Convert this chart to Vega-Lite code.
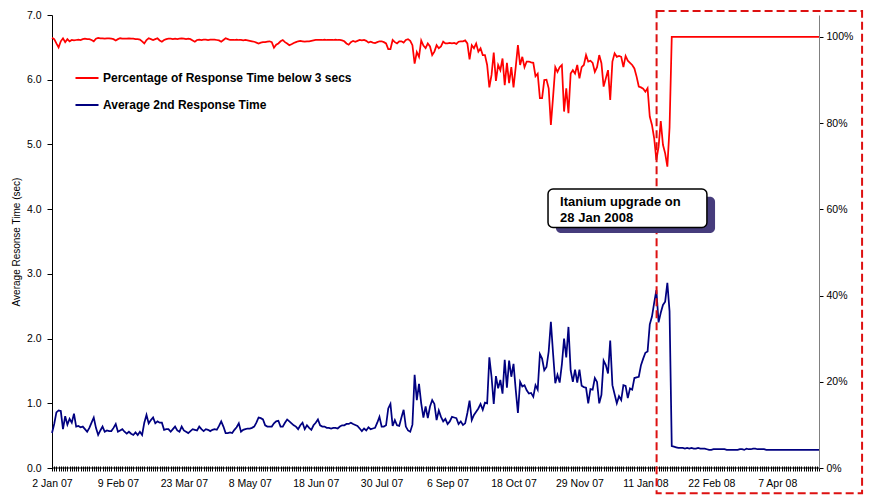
{
  "$schema": "https://vega.github.io/schema/vega-lite/v6.json",
  "width": 767,
  "height": 453,
  "autosize": {"type": "none"},
  "padding": {"left": 52, "top": 15, "right": 63, "bottom": 29},
  "background": "white",
  "config": {
    "view": {"stroke": null},
    "font": "Liberation Sans",
    "axis": {"labelFont": "Liberation Sans", "labelFontSize": 10.5, "labelColor": "#000", "tickColor": "#000", "domainColor": "#000", "grid": false}
  },
  "datasets": {
    "resp": [
      {"i":0,"avg":0.54,"pct":0.998},{"i":1,"avg":0.68,"pct":0.995},{"i":2,"avg":0.86,"pct":0.985},{"i":3,"avg":0.89,"pct":0.976},{"i":4,"avg":0.88,"pct":0.99},
      {"i":5,"avg":0.60,"pct":0.997},{"i":6,"avg":0.80,"pct":0.988},{"i":7,"avg":0.67,"pct":0.995},{"i":8,"avg":0.76,"pct":0.99},{"i":9,"avg":0.70,"pct":0.993},
      {"i":10,"avg":0.84,"pct":0.992},{"i":11,"avg":0.64,"pct":0.993},{"i":12,"avg":0.65,"pct":0.994},{"i":13,"avg":0.63,"pct":0.993},{"i":14,"avg":0.64,"pct":0.995},
      {"i":15,"avg":0.60,"pct":0.996},{"i":16,"avg":0.56,"pct":0.995},{"i":17,"avg":0.62,"pct":0.995},{"i":18,"avg":0.70,"pct":0.993},{"i":19,"avg":0.78,"pct":0.99},
      {"i":20,"avg":0.62,"pct":0.996},{"i":21,"avg":0.51,"pct":0.998},{"i":22,"avg":0.58,"pct":0.997},{"i":23,"avg":0.64,"pct":0.997},{"i":24,"avg":0.56,"pct":0.996},
      {"i":25,"avg":0.58,"pct":0.997},{"i":26,"avg":0.57,"pct":0.997},{"i":27,"avg":0.57,"pct":0.996},{"i":28,"avg":0.62,"pct":0.995},{"i":29,"avg":0.68,"pct":0.992},
      {"i":30,"avg":0.56,"pct":0.995},{"i":31,"avg":0.58,"pct":0.997},{"i":32,"avg":0.60,"pct":0.996},{"i":33,"avg":0.56,"pct":0.996},{"i":34,"avg":0.53,"pct":0.996},
      {"i":35,"avg":0.56,"pct":0.997},{"i":36,"avg":0.53,"pct":0.996},{"i":37,"avg":0.51,"pct":0.996},{"i":38,"avg":0.55,"pct":0.995},{"i":39,"avg":0.51,"pct":0.995},
      {"i":40,"avg":0.56,"pct":0.994},{"i":41,"avg":0.51,"pct":0.99},{"i":42,"avg":0.70,"pct":0.985},{"i":43,"avg":0.82,"pct":0.993},{"i":44,"avg":0.69,"pct":0.997},
      {"i":45,"avg":0.74,"pct":0.995},{"i":46,"avg":0.78,"pct":0.993},{"i":47,"avg":0.69,"pct":0.995},{"i":48,"avg":0.72,"pct":0.997},{"i":49,"avg":0.70,"pct":0.992},
      {"i":50,"avg":0.70,"pct":0.989},{"i":51,"avg":0.59,"pct":0.993},{"i":52,"avg":0.60,"pct":0.995},{"i":53,"avg":0.60,"pct":0.996},{"i":54,"avg":0.56,"pct":0.996},
      {"i":55,"avg":0.60,"pct":0.995},{"i":56,"avg":0.64,"pct":0.996},{"i":57,"avg":0.58,"pct":0.995},{"i":58,"avg":0.56,"pct":0.996},{"i":59,"avg":0.64,"pct":0.997},
      {"i":60,"avg":0.58,"pct":0.996},{"i":61,"avg":0.56,"pct":0.995},{"i":62,"avg":0.54,"pct":0.996},{"i":63,"avg":0.57,"pct":0.995},{"i":64,"avg":0.60,"pct":0.992},
      {"i":65,"avg":0.59,"pct":0.989},{"i":66,"avg":0.58,"pct":0.993},{"i":67,"avg":0.64,"pct":0.994},{"i":68,"avg":0.60,"pct":0.993},{"i":69,"avg":0.57,"pct":0.994},
      {"i":70,"avg":0.60,"pct":0.994},{"i":71,"avg":0.59,"pct":0.993},{"i":72,"avg":0.57,"pct":0.994},{"i":73,"avg":0.59,"pct":0.994},{"i":74,"avg":0.60,"pct":0.994},
      {"i":75,"avg":0.59,"pct":0.993},{"i":76,"avg":0.65,"pct":0.992},{"i":77,"avg":0.72,"pct":0.989},{"i":78,"avg":0.64,"pct":0.993},{"i":79,"avg":0.54,"pct":0.997},
      {"i":80,"avg":0.54,"pct":0.995},{"i":81,"avg":0.55,"pct":0.993},{"i":82,"avg":0.54,"pct":0.993},{"i":83,"avg":0.59,"pct":0.993},{"i":84,"avg":0.63,"pct":0.994},
      {"i":85,"avg":0.69,"pct":0.993},{"i":86,"avg":0.56,"pct":0.993},{"i":87,"avg":0.59,"pct":0.992},{"i":88,"avg":0.60,"pct":0.993},{"i":89,"avg":0.61,"pct":0.992},
      {"i":90,"avg":0.61,"pct":0.991},{"i":91,"avg":0.62,"pct":0.99},{"i":92,"avg":0.64,"pct":0.989},{"i":93,"avg":0.70,"pct":0.987},{"i":94,"avg":0.78,"pct":0.985},
      {"i":95,"avg":0.77,"pct":0.987},{"i":96,"avg":0.75,"pct":0.988},{"i":97,"avg":0.66,"pct":0.988},{"i":98,"avg":0.64,"pct":0.989},{"i":99,"avg":0.64,"pct":0.99},
      {"i":100,"avg":0.64,"pct":0.988},{"i":101,"avg":0.69,"pct":0.975},{"i":102,"avg":0.72,"pct":0.982},{"i":103,"avg":0.73,"pct":0.985},{"i":104,"avg":0.64,"pct":0.99},
      {"i":105,"avg":0.64,"pct":0.993},{"i":106,"avg":0.70,"pct":0.988},{"i":107,"avg":0.75,"pct":0.985},{"i":108,"avg":0.72,"pct":0.981},{"i":109,"avg":0.69,"pct":0.983},
      {"i":110,"avg":0.66,"pct":0.986},{"i":111,"avg":0.64,"pct":0.988},{"i":112,"avg":0.60,"pct":0.99},{"i":113,"avg":0.66,"pct":0.991},{"i":114,"avg":0.70,"pct":0.99},
      {"i":115,"avg":0.60,"pct":0.989},{"i":116,"avg":0.66,"pct":0.99},{"i":117,"avg":0.62,"pct":0.99},{"i":118,"avg":0.59,"pct":0.991},{"i":119,"avg":0.66,"pct":0.992},
      {"i":120,"avg":0.70,"pct":0.993},{"i":121,"avg":0.75,"pct":0.993},{"i":122,"avg":0.66,"pct":0.993},{"i":123,"avg":0.64,"pct":0.993},{"i":124,"avg":0.64,"pct":0.994},
      {"i":125,"avg":0.62,"pct":0.993},{"i":126,"avg":0.62,"pct":0.993},{"i":127,"avg":0.61,"pct":0.993},{"i":128,"avg":0.62,"pct":0.993},{"i":129,"avg":0.62,"pct":0.994},
      {"i":130,"avg":0.61,"pct":0.993},{"i":131,"avg":0.64,"pct":0.993},{"i":132,"avg":0.66,"pct":0.992},{"i":133,"avg":0.66,"pct":0.99},{"i":134,"avg":0.68,"pct":0.985},
      {"i":135,"avg":0.68,"pct":0.982},{"i":136,"avg":0.70,"pct":0.988},{"i":137,"avg":0.68,"pct":0.991},{"i":138,"avg":0.665,"pct":0.989},{"i":139,"avg":0.65,"pct":0.991},
      {"i":140,"avg":0.61,"pct":0.993},{"i":141,"avg":0.57,"pct":0.992},{"i":142,"avg":0.61,"pct":0.993},{"i":143,"avg":0.58,"pct":0.991},{"i":144,"avg":0.63,"pct":0.987},
      {"i":145,"avg":0.60,"pct":0.989},{"i":146,"avg":0.61,"pct":0.987},{"i":147,"avg":0.62,"pct":0.986},{"i":148,"avg":0.70,"pct":0.988},{"i":149,"avg":0.79,"pct":0.99},
      {"i":150,"avg":0.64,"pct":0.99},{"i":151,"avg":0.64,"pct":0.988},{"i":152,"avg":0.66,"pct":0.985},{"i":153,"avg":0.92,"pct":0.972},{"i":154,"avg":0.99,"pct":0.972},
      {"i":155,"avg":0.65,"pct":0.993},{"i":156,"avg":0.74,"pct":0.988},{"i":157,"avg":0.66,"pct":0.985},{"i":158,"avg":0.65,"pct":0.99},{"i":159,"avg":0.78,"pct":0.99},
      {"i":160,"avg":0.90,"pct":0.987},{"i":161,"avg":0.64,"pct":0.993},{"i":162,"avg":0.58,"pct":0.995},{"i":163,"avg":0.56,"pct":0.991},{"i":164,"avg":0.67,"pct":0.981},
      {"i":165,"avg":1.44,"pct":0.938},{"i":166,"avg":1.05,"pct":0.965},{"i":167,"avg":1.30,"pct":0.954},{"i":168,"avg":1.00,"pct":0.992},{"i":169,"avg":0.78,"pct":0.98},
      {"i":170,"avg":0.95,"pct":0.974},{"i":171,"avg":0.77,"pct":0.985},{"i":172,"avg":0.95,"pct":0.978},{"i":173,"avg":1.05,"pct":0.958},{"i":174,"avg":0.99,"pct":0.966},
      {"i":175,"avg":0.74,"pct":0.981},{"i":176,"avg":0.89,"pct":0.974},{"i":177,"avg":0.79,"pct":0.978},{"i":178,"avg":0.72,"pct":0.989},{"i":179,"avg":0.76,"pct":0.985},
      {"i":180,"avg":0.68,"pct":0.985},{"i":181,"avg":0.72,"pct":0.986},{"i":182,"avg":0.79,"pct":0.985},{"i":183,"avg":0.78,"pct":0.986},{"i":184,"avg":0.77,"pct":0.984},
      {"i":185,"avg":0.68,"pct":0.989},{"i":186,"avg":0.72,"pct":0.99},{"i":187,"avg":0.665,"pct":0.99},{"i":188,"avg":0.69,"pct":0.992},{"i":189,"avg":0.85,"pct":0.985},
      {"i":190,"avg":1.04,"pct":0.948},{"i":191,"avg":0.74,"pct":0.981},{"i":192,"avg":0.82,"pct":0.974},{"i":193,"avg":0.87,"pct":0.985},{"i":194,"avg":0.92,"pct":0.966},
      {"i":195,"avg":0.99,"pct":0.974},{"i":196,"avg":0.90,"pct":0.958},{"i":197,"avg":1.01,"pct":0.958},{"i":198,"avg":1.00,"pct":0.935},{"i":199,"avg":1.71,"pct":0.883},
      {"i":200,"avg":1.41,"pct":0.912},{"i":201,"avg":0.99,"pct":0.964},{"i":202,"avg":1.42,"pct":0.898},{"i":203,"avg":1.23,"pct":0.935},{"i":204,"avg":1.36,"pct":0.923},
      {"i":205,"avg":1.15,"pct":0.95},{"i":206,"avg":1.67,"pct":0.888},{"i":207,"avg":1.24,"pct":0.94},{"i":208,"avg":1.66,"pct":0.893},{"i":209,"avg":1.41,"pct":0.93},
      {"i":210,"avg":1.61,"pct":0.883},{"i":211,"avg":1.21,"pct":0.93},{"i":212,"avg":0.85,"pct":0.981},{"i":213,"avg":1.33,"pct":0.935},{"i":214,"avg":1.26,"pct":0.954},
      {"i":215,"avg":1.28,"pct":0.93},{"i":216,"avg":1.20,"pct":0.943},{"i":217,"avg":1.15,"pct":0.943},{"i":218,"avg":1.16,"pct":0.941},{"i":219,"avg":1.10,"pct":0.94},
      {"i":220,"avg":1.28,"pct":0.909},{"i":221,"avg":1.21,"pct":0.915},{"i":222,"avg":1.76,"pct":0.858},{"i":223,"avg":1.69,"pct":0.858},{"i":224,"avg":1.51,"pct":0.9},
      {"i":225,"avg":1.56,"pct":0.901},{"i":226,"avg":1.80,"pct":0.881},{"i":227,"avg":2.26,"pct":0.796},{"i":228,"avg":1.77,"pct":0.861},{"i":229,"avg":1.31,"pct":0.93},
      {"i":230,"avg":1.44,"pct":0.919},{"i":231,"avg":1.32,"pct":0.93},{"i":232,"avg":1.60,"pct":0.935},{"i":233,"avg":2.00,"pct":0.827},{"i":234,"avg":1.71,"pct":0.881},
      {"i":235,"avg":2.18,"pct":0.823},{"i":236,"avg":1.51,"pct":0.915},{"i":237,"avg":1.33,"pct":0.923},{"i":238,"avg":1.52,"pct":0.915},{"i":239,"avg":1.32,"pct":0.935},
      {"i":240,"avg":1.52,"pct":0.904},{"i":241,"avg":1.27,"pct":0.93},{"i":242,"avg":1.25,"pct":0.935},{"i":243,"avg":1.24,"pct":0.958},{"i":244,"avg":1.00,"pct":0.943},
      {"i":245,"avg":1.22,"pct":0.945},{"i":246,"avg":1.21,"pct":0.94},{"i":247,"avg":1.39,"pct":0.919},{"i":248,"avg":1.33,"pct":0.93},{"i":249,"avg":1.00,"pct":0.958},
      {"i":250,"avg":1.13,"pct":0.939},{"i":251,"avg":1.66,"pct":0.885},{"i":252,"avg":1.59,"pct":0.904},{"i":253,"avg":1.46,"pct":0.923},{"i":254,"avg":1.97,"pct":0.854},
      {"i":255,"avg":1.28,"pct":0.943},{"i":256,"avg":1.14,"pct":0.962},{"i":257,"avg":1.00,"pct":0.954},{"i":258,"avg":1.11,"pct":0.956},{"i":259,"avg":1.05,"pct":0.954},
      {"i":260,"avg":1.28,"pct":0.93},{"i":261,"avg":1.27,"pct":0.956},{"i":262,"avg":1.08,"pct":0.945},{"i":263,"avg":1.23,"pct":0.94},{"i":264,"avg":1.21,"pct":0.935},
      {"i":265,"avg":1.39,"pct":0.927},{"i":266,"avg":1.40,"pct":0.908},{"i":267,"avg":1.41,"pct":0.885},{"i":268,"avg":1.59,"pct":0.883},{"i":269,"avg":1.69,"pct":0.88},
      {"i":270,"avg":1.78,"pct":0.873},{"i":271,"avg":1.80,"pct":0.881},{"i":272,"avg":2.22,"pct":0.815},{"i":273,"avg":2.34,"pct":0.796},{"i":274,"avg":2.55,"pct":0.765},
      {"i":275,"avg":2.75,"pct":0.715},{"i":276,"avg":2.25,"pct":0.745},{"i":277,"avg":2.40,"pct":0.805},{"i":278,"avg":2.52,"pct":0.75},{"i":279,"avg":2.57,"pct":0.73},
      {"i":280,"avg":2.86,"pct":0.699},{"i":281,"avg":2.42,"pct":0.79},{"i":282,"avg":0.34,"pct":1},{"i":283,"avg":0.33,"pct":1},{"i":284,"avg":0.32,"pct":1},
      {"i":285,"avg":0.31,"pct":1},{"i":286,"avg":0.31,"pct":1},{"i":287,"avg":0.31,"pct":1},{"i":288,"avg":0.30,"pct":1},{"i":289,"avg":0.31,"pct":1},
      {"i":290,"avg":0.30,"pct":1},{"i":291,"avg":0.31,"pct":1},{"i":292,"avg":0.30,"pct":1},{"i":293,"avg":0.30,"pct":1},{"i":294,"avg":0.31,"pct":1},
      {"i":295,"avg":0.30,"pct":1},{"i":296,"avg":0.30,"pct":1},{"i":297,"avg":0.30,"pct":1},{"i":298,"avg":0.29,"pct":1},{"i":299,"avg":0.28,"pct":1},
      {"i":300,"avg":0.28,"pct":1},{"i":301,"avg":0.29,"pct":1},{"i":302,"avg":0.29,"pct":1},{"i":303,"avg":0.29,"pct":1},{"i":304,"avg":0.29,"pct":1},
      {"i":305,"avg":0.29,"pct":1},{"i":306,"avg":0.29,"pct":1},{"i":307,"avg":0.28,"pct":1},{"i":308,"avg":0.28,"pct":1},{"i":309,"avg":0.28,"pct":1},
      {"i":310,"avg":0.28,"pct":1},{"i":311,"avg":0.28,"pct":1},{"i":312,"avg":0.28,"pct":1},{"i":313,"avg":0.29,"pct":1},{"i":314,"avg":0.29,"pct":1},
      {"i":315,"avg":0.28,"pct":1},{"i":316,"avg":0.30,"pct":1},{"i":317,"avg":0.29,"pct":1},{"i":318,"avg":0.29,"pct":1},{"i":319,"avg":0.30,"pct":1},
      {"i":320,"avg":0.30,"pct":1},{"i":321,"avg":0.29,"pct":1},{"i":322,"avg":0.29,"pct":1},{"i":323,"avg":0.29,"pct":1},{"i":324,"avg":0.29,"pct":1},
      {"i":325,"avg":0.28,"pct":1},{"i":326,"avg":0.28,"pct":1},{"i":327,"avg":0.28,"pct":1},{"i":328,"avg":0.28,"pct":1},{"i":329,"avg":0.28,"pct":1},
      {"i":330,"avg":0.28,"pct":1},{"i":331,"avg":0.28,"pct":1},{"i":332,"avg":0.28,"pct":1},{"i":333,"avg":0.28,"pct":1},{"i":334,"avg":0.28,"pct":1},
      {"i":335,"avg":0.28,"pct":1},{"i":336,"avg":0.28,"pct":1},{"i":337,"avg":0.28,"pct":1},{"i":338,"avg":0.28,"pct":1},{"i":339,"avg":0.28,"pct":1},
      {"i":340,"avg":0.28,"pct":1},{"i":341,"avg":0.28,"pct":1},{"i":342,"avg":0.28,"pct":1},{"i":343,"avg":0.28,"pct":1},{"i":344,"avg":0.28,"pct":1},
      {"i":345,"avg":0.28,"pct":1},{"i":346,"avg":0.28,"pct":1},{"i":347,"avg":0.28,"pct":1},{"i":348,"avg":0.28,"pct":1},{"i":349,"avg":0.28,"pct":1}
    ]
  },
  "data": {"name": "resp"},
  "layer": [
    {
      "mark": {"type": "line", "strokeWidth": 1.75},
      "encoding": {
        "x": {
          "field": "i", "type": "quantitative",
          "scale": {"domain": [0, 349], "nice": false, "zero": false},
          "axis": {
            "orient": "bottom", "title": null, "domain": false, "offset": -2,
            "tickCount": 350, "tickSize": 5, "labelPadding": 7,
            "labelOverlap": false, "labelFlush": false, "labelBound": false,
            "labelExpr": "datum.value % 30 === 0 ? ['2 Jan 07','9 Feb 07','23 Mar 07','8 May 07','18 Jun 07','30 Jul 07','6 Sep 07','18 Oct 07','29 Nov 07','11 Jan 08','22 Feb 08','7 Apr 08'][datum.value / 30] : ''"
          }
        },
        "y": {
          "field": "pct", "type": "quantitative",
          "scale": {"domain": [0, 1.051], "nice": false, "zero": true},
          "axis": {
            "orient": "right", "title": null, "values": [0, 0.2, 0.4, 0.6, 0.8, 1],
            "format": ".0%", "domainColor": "#808080", "tickSize": 4, "labelPadding": 3
          }
        },
        "color": {
          "datum": "Percentage of Response Time below 3 secs", "type": "nominal",
          "scale": {"domain": ["Percentage of Response Time below 3 secs", "Average 2nd Response Time"], "range": ["#FF0000", "#000080"]},
          "legend": {
            "orient": "none", "legendX": 22, "legendY": 50, "direction": "vertical", "title": null,
            "symbolType": "stroke", "symbolSize": 530, "symbolStrokeWidth": 2,
            "labelFont": "Liberation Sans", "labelFontSize": 12, "labelFontWeight": "bold", "labelColor": "#000",
            "labelOffset": 3, "rowPadding": 8, "padding": 0, "labelLimit": 500
          }
        }
      }
    },
    {
      "layer": [
        {
          "mark": {"type": "line", "strokeWidth": 1.75},
          "encoding": {
            "x": {"field": "i", "type": "quantitative"},
            "y": {
              "field": "avg", "type": "quantitative",
              "scale": {"domain": [0, 7], "nice": false, "zero": true},
              "axis": {
                "orient": "left", "title": "Average Resonse Time (sec)", "values": [0, 1, 2, 3, 4, 5, 6, 7],
                "format": ".1f", "tickSize": 5, "labelPadding": 6,
                "titleFont": "Liberation Sans", "titleFontSize": 10, "titleFontWeight": "normal", "titleColor": "#000", "titlePadding": 5
              }
            },
            "color": {
              "datum": "Average 2nd Response Time", "type": "nominal",
              "scale": {"domain": ["Percentage of Response Time below 3 secs", "Average 2nd Response Time"], "range": ["#FF0000", "#000080"]}
            }
          }
        },
        {
          "data": {"values": [{}]},
          "mark": {"type": "rule", "color": "#000", "strokeWidth": 1},
          "encoding": {
            "x": {"datum": 0, "type": "quantitative"},
            "x2": {"datum": 349},
            "y": {"datum": 0, "type": "quantitative"}
          }
        },
        {
          "data": {"values": [{}]},
          "mark": {"type": "rect", "filled": false, "stroke": "#DD1111", "strokeWidth": 2, "strokeDash": [8, 4]},
          "encoding": {
            "x": {"datum": 275.1, "type": "quantitative"},
            "x2": {"datum": 368.6},
            "y": {"datum": 7.06, "type": "quantitative"},
            "y2": {"datum": -0.39}
          }
        },
        {
          "data": {"values": [{}]},
          "mark": {"type": "rect", "fill": "#463C7C", "cornerRadius": 5},
          "encoding": {
            "x": {"datum": 229.3, "type": "quantitative"},
            "x2": {"datum": 301.7},
            "y": {"datum": 4.19, "type": "quantitative"},
            "y2": {"datum": 3.63}
          }
        },
        {
          "data": {"values": [{}]},
          "mark": {"type": "rect", "fill": "#FFFFFF", "stroke": "#000", "strokeWidth": 1.5, "cornerRadius": 5},
          "encoding": {
            "x": {"datum": 225.7, "type": "quantitative"},
            "x2": {"datum": 298.0},
            "y": {"datum": 4.312, "type": "quantitative"},
            "y2": {"datum": 3.717}
          }
        },
        {
          "data": {"values": [{}]},
          "mark": {
            "type": "text", "text": ["Itanium upgrade on", "28 Jan 2008"],
            "align": "left", "baseline": "alphabetic", "lineHeight": 16.5,
            "font": "Liberation Sans", "fontSize": 13, "fontWeight": "bold", "color": "#000"
          },
          "encoding": {
            "x": {"datum": 231.2, "type": "quantitative"},
            "y": {"datum": 4.05, "type": "quantitative"}
          }
        }
      ]
    }
  ],
  "resolve": {"scale": {"y": "independent"}}
}
